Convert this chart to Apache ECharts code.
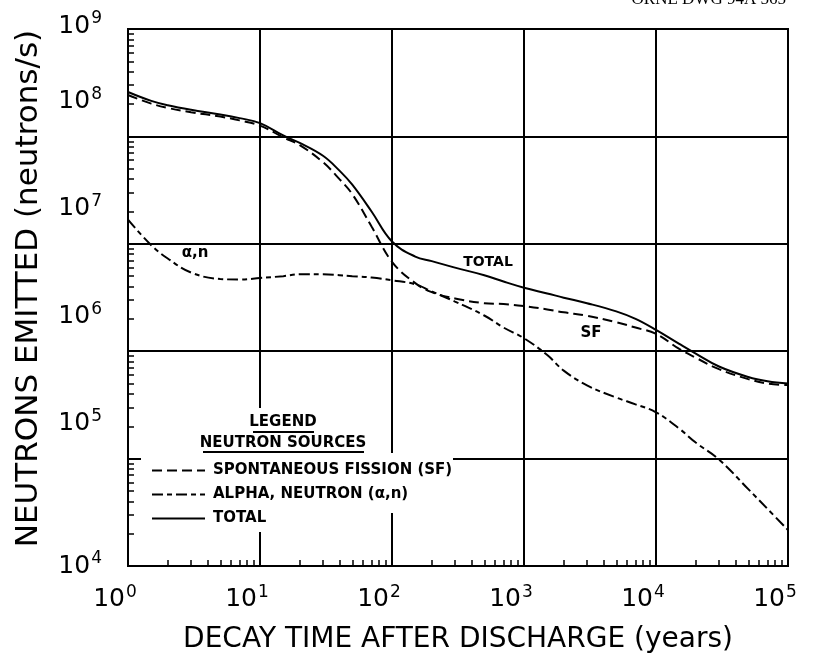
<!DOCTYPE html>
<html>
<head>
<meta charset="utf-8">
<script src="https://cdn.jsdelivr.net/npm/echarts@6/dist/echarts.min.js"></script>
<style>
  html, body { margin: 0; padding: 0; background: #fff; }
  #chart { width: 818px; height: 664px; }
</style>
</head>
<body>
<div id="chart"></div>
<script>
// decay time (years) and neutron emission (neutrons/s)
const times = [1, 1.5, 2, 3, 5, 7, 10, 15, 20, 30, 40, 50, 70, 100, 150, 200, 300, 500, 700,
  1000, 1500, 2000, 3000, 5000, 7000, 10000, 15000, 20000, 30000, 50000, 70000, 100000]
const sfValues = [2.43e8, 2.02e8, 1.84e8, 1.68e8, 1.53e8, 1.41e8, 1.26e8, 9.8e7, 8.3e7, 5.75e7, 4.0e7, 2.9e7, 1.45e7, 6.8e6, 4.3e6, 3.55e6, 3.1e6, 2.8e6, 2.75e6,
  2.63e6, 2.45e6, 2.3e6, 2.14e6, 1.86e6, 1.66e6, 1.45e6, 1.05e6, 8.7e5, 6.8e5, 5.5e5, 5.0e5, 4.84e5]
const alphaValues = [1.68e7, 9.7e6, 7.3e6, 5.4e6, 4.7e6, 4.65e6, 4.8e6, 5.0e6, 5.2e6, 5.2e6, 5.1e6, 5.0e6, 4.85e6, 4.57e6, 4.2e6, 3.6e6, 2.9e6, 2.15e6, 1.66e6,
  1.32e6, 9.2e5, 6.6e5, 4.8e5, 3.7e5, 3.2e5, 2.7e5, 1.9e5, 1.41e5, 9.8e4, 5.2e4, 3.4e4, 2.16e4]
const totalValues = [2.59e8, 2.14e8, 1.95e8, 1.77e8, 1.6e8, 1.48e8, 1.33e8, 1.02e8, 8.7e7, 6.6e7, 4.8e7, 3.55e7, 2.0e7, 1.05e7, 7.6e6, 6.9e6, 6.0e6, 5.1e6, 4.45e6,
  3.9e6, 3.45e6, 3.15e6, 2.8e6, 2.35e6, 2.0e6, 1.58e6, 1.17e6, 9.5e5, 7.2e5, 5.75e5, 5.25e5, 5.0e5]

const seriesNames = ['SPONTANEOUS FISSION (SF)', 'ALPHA, NEUTRON (\u03b1,n)', 'TOTAL']
const xExponents = [0, 1, 2, 3, 4, 5]
const yExponents = [4, 5, 6, 7, 8, 9]

const FONT = 'DejaVu Sans'
const pairs = vals => times.map((t, i) => [t, vals[i]])

const supRich = {
  b: { fontSize: 25, fontFamily: FONT, color: '#000' },
  s: { fontSize: 17, fontFamily: FONT, color: '#000', padding: [0, 0, 14, 1] },
  g: { height: 70 },
  g9: { height: 6 }
}

const chart = echarts.init(document.getElementById('chart'))

const option = {
  backgroundColor: '#fff',
  animation: false,
  grid: {
    left: 128, top: 29, width: 660, height: 537,
    show: true, borderColor: '#000', borderWidth: 2
  },
  xAxis: {
    type: 'log',
    logBase: 10,
    min: Math.pow(10, xExponents[0]),
    max: Math.pow(10, xExponents[xExponents.length - 1]),
    name: 'DECAY TIME AFTER DISCHARGE (years)',
    nameLocation: 'middle',
    nameGap: 60,
    nameTextStyle: { fontSize: 28, fontFamily: FONT, color: '#000' },
    axisLine: { lineStyle: { color: '#000', width: 2 } },
    axisTick: { inside: true, length: 8, lineStyle: { color: '#000', width: 2 } },
    minorTick: { show: true, splitNumber: 9, length: 6, lineStyle: { color: '#000', width: 1.5 } },
    splitLine: { show: true, lineStyle: { color: '#000', width: 2 } },
    axisLabel: {
      margin: 18,
      padding: [0, 26, 0, 0],
      formatter: v => '{b|10}{s|' + Math.round(Math.log10(v)) + '}',
      rich: supRich
    }
  },
  yAxis: {
    type: 'log',
    logBase: 10,
    min: Math.pow(10, yExponents[0]),
    max: Math.pow(10, yExponents[yExponents.length - 1]),
    name: 'NEUTRONS EMITTED (neutrons/s)',
    nameLocation: 'middle',
    nameGap: 84,
    nameTextStyle: { fontSize: 31, fontFamily: FONT, color: '#000', padding: [0, 0, 0, 18] },
    axisLine: { lineStyle: { color: '#000', width: 2 } },
    axisTick: { inside: true, length: 10, lineStyle: { color: '#000', width: 2 } },
    minorTick: { show: true, splitNumber: 9, length: 6, lineStyle: { color: '#000', width: 1.5 } },
    splitLine: { show: true, lineStyle: { color: '#000', width: 2 } },
    axisLabel: {
      margin: 26,
      formatter: v => {
        const e = Math.round(Math.log10(v))
        const lift = e === 9 ? '\n{g9|}' : (e === 4 ? '' : '\n{g|}')
        return '{b|10}{s|' + e + '}' + lift
      },
      rich: supRich
    }
  },
  legend: {
    orient: 'vertical',
    left: 146,
    top: 458,
    z: 20,
    itemWidth: 53,
    itemHeight: 14,
    itemGap: 9,
    data: seriesNames,
    itemStyle: { opacity: 0 },
    textStyle: { fontSize: 15, fontWeight: 'bold', fontFamily: FONT, color: '#000', padding: [0, 0, 0, 3] }
  },
  graphic: [
    // white patches behind the legend text
    { type: 'rect', z: 10, shape: { x: 200, y: 408, width: 170, height: 45 }, style: { fill: '#fff' } },
    { type: 'rect', z: 10, shape: { x: 141, y: 453, width: 312, height: 60 }, style: { fill: '#fff' } },
    { type: 'rect', z: 10, shape: { x: 141, y: 513, width: 160, height: 19 }, style: { fill: '#fff' } },
    { type: 'text', z: 21, x: 283, y: 422, style: { text: 'LEGEND', font: 'bold 15px "DejaVu Sans"', fill: '#000', align: 'center', verticalAlign: 'middle' } },
    { type: 'line', z: 21, shape: { x1: 253, y1: 432, x2: 314, y2: 432 }, style: { stroke: '#000', lineWidth: 2 } },
    { type: 'text', z: 21, x: 283, y: 443, style: { text: 'NEUTRON SOURCES', font: 'bold 15px "DejaVu Sans"', fill: '#000', align: 'center', verticalAlign: 'middle' } },
    { type: 'line', z: 21, shape: { x1: 203, y1: 452, x2: 364, y2: 452 }, style: { stroke: '#000', lineWidth: 2 } },
    // curve annotations
    { type: 'text', z: 21, x: 195, y: 253, style: { text: '\u03b1,n', font: 'bold 15px "DejaVu Sans"', fill: '#000', align: 'center', verticalAlign: 'middle' } },
    { type: 'text', z: 21, x: 488, y: 262, style: { text: 'TOTAL', font: 'bold 14px "DejaVu Sans"', fill: '#000', align: 'center', verticalAlign: 'middle' } },
    { type: 'text', z: 21, x: 591, y: 333, style: { text: 'SF', font: 'bold 15px "DejaVu Sans"', fill: '#000', align: 'center', verticalAlign: 'middle' } },
    // drawing number, cut by the top edge
    { type: 'text', z: 21, x: 786, y: -9, style: { text: 'ORNL DWG 94A 565', font: '17px "Liberation Serif"', fill: '#000', align: 'right', verticalAlign: 'top' } }
  ],
  series: [
    {
      name: seriesNames[0], type: 'line', data: pairs(sfValues), smooth: 0.4,
      symbol: 'none', z: 3, itemStyle: { color: '#000' },
      lineStyle: { color: '#000', width: 2, type: [10, 5] }
    },
    {
      name: seriesNames[1], type: 'line', data: pairs(alphaValues), smooth: 0.4,
      symbol: 'none', z: 3, itemStyle: { color: '#000' },
      lineStyle: { color: '#000', width: 2, type: [11, 4, 5, 4] }
    },
    {
      name: seriesNames[2], type: 'line', data: pairs(totalValues), smooth: 0.4,
      symbol: 'none', z: 3, itemStyle: { color: '#000' },
      lineStyle: { color: '#000', width: 2, type: 'solid' }
    }
  ]
}

chart.setOption(option)
</script>
</body>
</html>
